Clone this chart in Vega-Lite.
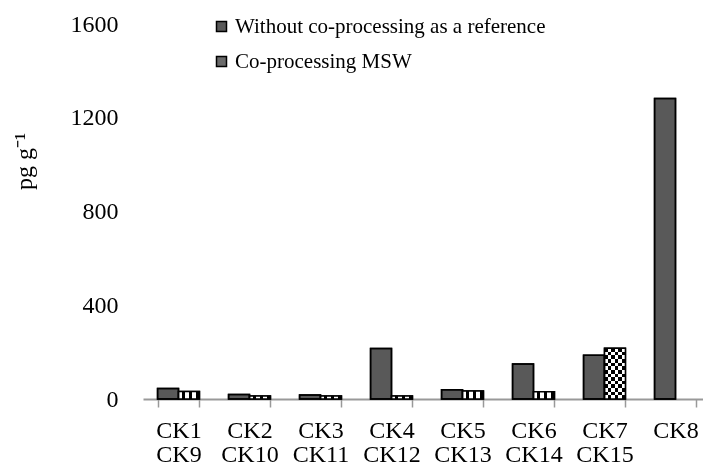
{
  "$schema": "https://vega.github.io/schema/vega-lite/v6.json",
  "autosize": {"type": "none"},
  "padding": {"left": 143, "top": 24, "right": 0, "bottom": 67},
  "width": 568,
  "height": 375,
  "background": "white",
  "config": {"font": "Liberation Serif", "view": {"stroke": null}},
  "data": {"values": [
    {"cat": "CK1|CK9", "series": "Without co-processing as a reference", "value": 45},
    {"cat": "CK1|CK9", "series": "Co-processing MSW", "value": 32},
    {"cat": "CK2|CK10", "series": "Without co-processing as a reference", "value": 19},
    {"cat": "CK2|CK10", "series": "Co-processing MSW", "value": 13},
    {"cat": "CK3|CK11", "series": "Without co-processing as a reference", "value": 17},
    {"cat": "CK3|CK11", "series": "Co-processing MSW", "value": 13},
    {"cat": "CK4|CK12", "series": "Without co-processing as a reference", "value": 215},
    {"cat": "CK4|CK12", "series": "Co-processing MSW", "value": 13},
    {"cat": "CK5|CK13", "series": "Without co-processing as a reference", "value": 40},
    {"cat": "CK5|CK13", "series": "Co-processing MSW", "value": 34},
    {"cat": "CK6|CK14", "series": "Without co-processing as a reference", "value": 149},
    {"cat": "CK6|CK14", "series": "Co-processing MSW", "value": 31},
    {"cat": "CK7|CK15", "series": "Without co-processing as a reference", "value": 187},
    {"cat": "CK7|CK15", "series": "Co-processing MSW", "value": 217},
    {"cat": "CK8", "series": "Without co-processing as a reference", "value": 1282}
  ]},
  "encoding": {
    "x": {
      "field": "cat", "type": "nominal", "sort": null,
      "scale": {"paddingInner": 0.41, "paddingOuter": 0.205},
      "axis": {
        "title": null,
        "labelExpr": "split(datum.label, '|')",
        "labelFont": "Liberation Serif", "labelFontSize": 24, "labelColor": "black",
        "labelAngle": 0, "labelLineHeight": 24, "labelPadding": 11, "labelBaseline": "top",
        "tickBand": "extent", "tickSize": 8, "tickColor": "#999999", "tickWidth": 1.5,
        "domainColor": "#999999", "domainWidth": 2, "grid": false
      }
    },
    "xOffset": {
      "field": "series", "type": "nominal",
      "sort": ["Without co-processing as a reference", "Co-processing MSW"],
      "scale": {"paddingInner": 0, "paddingOuter": 0}
    },
    "y": {
      "field": "value", "type": "quantitative",
      "scale": {"domain": [0, 1600], "nice": false},
      "axis": {
        "values": [0, 400, 800, 1200, 1600], "format": "d",
        "domain": false, "ticks": false, "grid": false,
        "labelFont": "Liberation Serif", "labelFontSize": 24, "labelColor": "black", "labelPadding": 25,
        "title": "pg g⁻¹", "titleFont": "Liberation Serif", "titleFontSize": 24, "titleFontWeight": "normal",
        "titleColor": "black", "titleX": -119, "titleY": 137, "titleAngle": -90,
        "titleAlign": "center", "titleBaseline": "middle"
      }
    }
  },
  "layer": [
    {
      "mark": {"type": "bar", "stroke": "black", "strokeWidth": 1.5},
      "encoding": {
        "color": {
          "field": "series", "type": "nominal",
          "sort": ["Without co-processing as a reference", "Co-processing MSW"],
          "scale": {
            "domain": ["Without co-processing as a reference", "Co-processing MSW"],
            "range": ["#595959", "#6a6a6a"]
          },
          "legend": {
            "orient": "none", "legendX": 68, "legendY": -8, "title": null,
            "symbolType": "square", "symbolSize": 100, "symbolStrokeColor": "black", "symbolStrokeWidth": 1.5,
            "symbolOpacity": 1,
            "labelFont": "Liberation Serif", "labelFontSize": 21, "labelColor": "black",
            "labelOffset": 3, "rowPadding": 13, "padding": 0, "labelLimit": 0
          }
        }
      }
    },
    {
      "transform": [{"filter": "datum.series === 'Co-processing MSW'"}],
      "mark": {"type": "bar", "strokeWidth": 0},
      "encoding": {
        "color": {"value": {"gradient": "linear", "x1": 0, "y1": 0, "x2": 1, "y2": 0, "stops": [
          {"offset": 0, "color": "white"}, {"offset": 0.1667, "color": "white"},
          {"offset": 0.1667, "color": "black"}, {"offset": 0.3333, "color": "black"},
          {"offset": 0.3333, "color": "white"}, {"offset": 0.5, "color": "white"},
          {"offset": 0.5, "color": "black"}, {"offset": 0.6667, "color": "black"},
          {"offset": 0.6667, "color": "white"}, {"offset": 0.8333, "color": "white"},
          {"offset": 0.8333, "color": "black"}, {"offset": 1, "color": "black"}
        ]}}
      }
    },
    {
      "transform": [{"filter": "datum.series === 'Co-processing MSW' && datum.value > 100"}],
      "mark": {"type": "bar", "strokeWidth": 0, "blend": "difference"},
      "encoding": {
        "color": {"value": {"gradient": "linear", "x1": 0, "y1": 0, "x2": 0, "y2": 1, "stops": [
          {"offset": 0, "color": "white"}, {"offset": 0.0714, "color": "white"},
          {"offset": 0.0714, "color": "black"}, {"offset": 0.1429, "color": "black"},
          {"offset": 0.1429, "color": "white"}, {"offset": 0.2143, "color": "white"},
          {"offset": 0.2143, "color": "black"}, {"offset": 0.2857, "color": "black"},
          {"offset": 0.2857, "color": "white"}, {"offset": 0.3571, "color": "white"},
          {"offset": 0.3571, "color": "black"}, {"offset": 0.4286, "color": "black"},
          {"offset": 0.4286, "color": "white"}, {"offset": 0.5, "color": "white"},
          {"offset": 0.5, "color": "black"}, {"offset": 0.5714, "color": "black"},
          {"offset": 0.5714, "color": "white"}, {"offset": 0.6429, "color": "white"},
          {"offset": 0.6429, "color": "black"}, {"offset": 0.7143, "color": "black"},
          {"offset": 0.7143, "color": "white"}, {"offset": 0.7857, "color": "white"},
          {"offset": 0.7857, "color": "black"}, {"offset": 0.8571, "color": "black"},
          {"offset": 0.8571, "color": "white"}, {"offset": 0.9286, "color": "white"},
          {"offset": 0.9286, "color": "black"}, {"offset": 1, "color": "black"}
        ]}}
      }
    },
    {
      "mark": {"type": "bar", "fillOpacity": 0, "stroke": "black", "strokeWidth": 1.5}
    }
  ]
}
